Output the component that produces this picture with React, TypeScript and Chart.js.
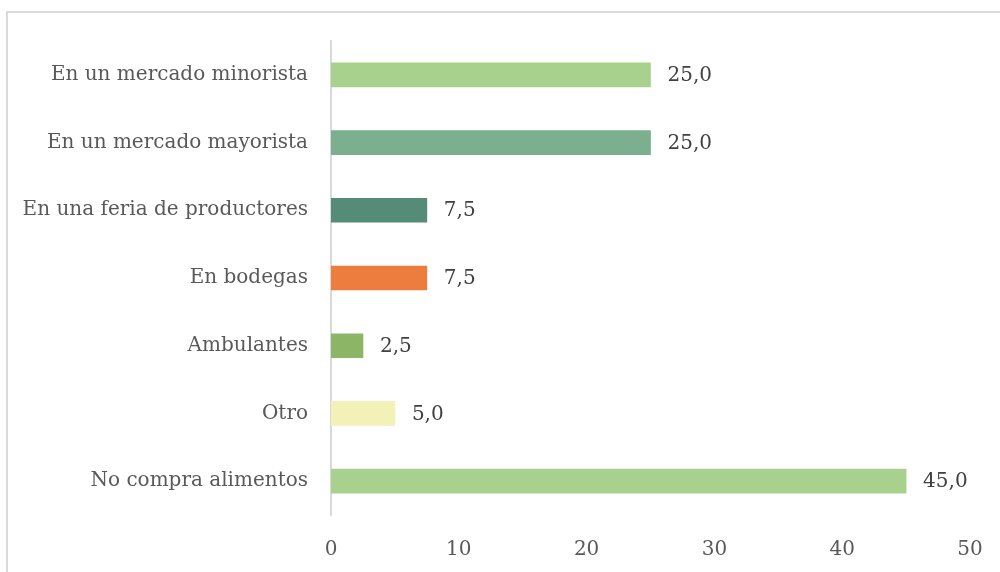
import React, { useEffect, useRef } from "react";
import { Chart, registerables } from "chart.js";

Chart.register(...registerables);

const categories = [
  "En un mercado minorista",
  "En un mercado mayorista",
  "En una feria de productores",
  "En bodegas",
  "Ambulantes",
  "Otro",
  "No compra alimentos",
];
const values = [25.0, 25.0, 7.5, 7.5, 2.5, 5.0, 45.0];
const barColors = ["#A9D18E", "#7BAF8F", "#548C78", "#ED7D3F", "#8DB566", "#F2F1B8", "#A9D18E"];
const xTicks = [0, 10, 20, 30, 40, 50];

const FONT = "'DejaVu Serif', serif";
const TEXT = "#595959";

const fmt = (v: number) => v.toFixed(1).replace(".", ",");

const labelPlugin = {
  id: "barLabels",
  afterDatasetsDraw(chart: any) {
    const ctx = chart.ctx;
    const meta = chart.getDatasetMeta(0);
    ctx.save();
    ctx.font = `20px ${FONT}`;
    ctx.fillStyle = "#404040";
    ctx.textAlign = "left";
    ctx.textBaseline = "middle";
    meta.data.forEach((bar: any, i: number) => {
      ctx.fillText(fmt(values[i]), bar.x + 17, bar.y + 1);
    });
    ctx.restore();
  },
};

export default function App() {
  const ref = useRef<HTMLCanvasElement>(null);
  useEffect(() => {
    if (!ref.current) return;
    const chart = new Chart(ref.current, {
      type: "bar",
      data: {
        labels: categories,
        datasets: [
          {
            data: values,
            backgroundColor: barColors,
            barThickness: 24,
          },
        ],
      },
      options: {
        indexAxis: "y",
        animation: false,
        responsive: false,
        maintainAspectRatio: false,
        layout: { padding: { left: 0, right: 30, top: 41, bottom: 0 } },
        plugins: { legend: { display: false }, tooltip: { enabled: false } },
        scales: {
          y: {
            type: "category",
            afterFit: (s: any) => {
              s.width = 331;
              s.paddingTop = 0;
              s.paddingBottom = 0;
            },
            grid: { display: false, drawTicks: false },
            border: { display: true, color: "#D9D9D9", width: 2 },
            ticks: { padding: 23, color: TEXT, font: { family: FONT, size: 20 } },
          },
          x: {
            type: "linear",
            min: 0,
            max: 50,
            afterFit: (s: any) => {
              s.height = 57;
              s.paddingRight = 0;
              s.paddingLeft = 0;
            },
            afterBuildTicks: (s: any) => {
              s.ticks = xTicks.map((v) => ({ value: v }));
            },
            grid: { display: false, drawTicks: false },
            border: { display: false },
            ticks: { padding: 23, color: TEXT, font: { family: FONT, size: 20 } },
          },
        },
      },
      plugins: [labelPlugin],
    });
    return () => chart.destroy();
  }, []);
  return (
    <div style={{ position: "absolute", left: 0, top: 0, width: 1000, height: 572, overflow: "hidden", background: "#fff" }}>
      <div
        style={{
          position: "absolute",
          left: 6,
          top: 11,
          width: 1100,
          height: 700,
          border: "2px solid #D9D9D9",
          boxSizing: "border-box",
        }}
      />
      <canvas ref={ref} width={1000} height={572} style={{ position: "absolute", left: 0, top: 0, width: 1000, height: 572 }} />
    </div>
  );
}
